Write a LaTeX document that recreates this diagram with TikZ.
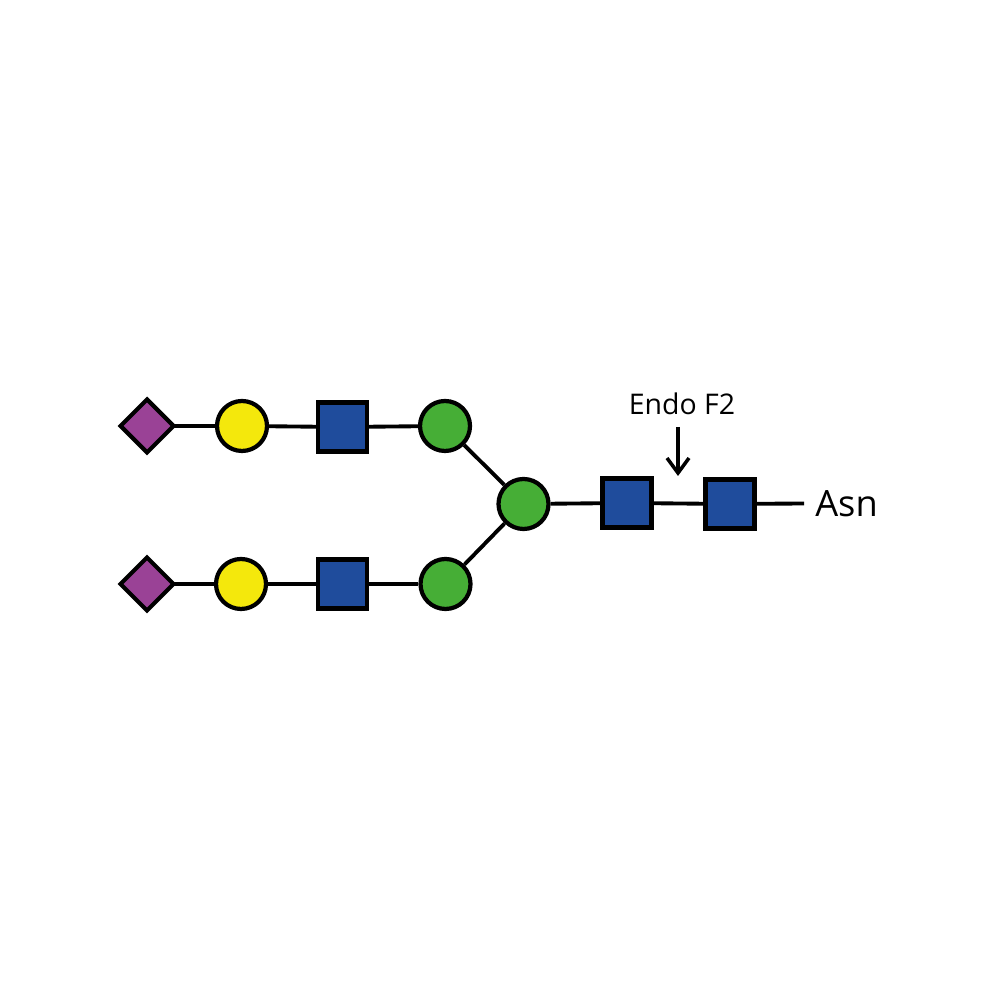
\documentclass[tikz,border=0pt]{standalone}
\usepackage{fontspec}
\setmainfont{Open Sans}
\usetikzlibrary{shapes.geometric,arrows.meta}

\definecolor{sialic}{RGB}{154,66,150}
\definecolor{galac}{RGB}{244,232,12}
\definecolor{glcnac}{RGB}{31,76,156}
\definecolor{manno}{RGB}{70,174,54}

\tikzset{
  link/.style={line width=1.1pt},
  sugarsq/.style={draw, line width=1.2pt, rectangle, fill=glcnac, inner sep=0pt, minimum size=0.49cm},
  sugarci/.style={draw, line width=1.2pt, circle, fill=#1, inner sep=0pt, minimum size=0.5cm},
  sugardi/.style={draw, line width=1.2pt, diamond, fill=sialic, inner sep=0pt, outer sep=0pt, minimum size=0.53cm}
}

\begin{document}
\begin{tikzpicture}

\useasboundingbox (0,0) rectangle (10,10);

% upper branch
\node[sugardi] (diaup) at (1.47,5.74) {};
\node[sugarci=galac] (galup) at (2.42,5.74) {};
\node[sugarsq] (squp) at (3.425,5.73) {};
\node[sugarci=manno] (manup) at (4.45,5.74) {};

% lower branch
\node[sugardi] (dialow) at (1.47,4.16) {};
\node[sugarci=galac] (gallow) at (2.41,4.16) {};
\node[sugarsq] (sqlow) at (3.425,4.16) {};
\node[sugarci=manno] (manlow) at (4.455,4.16) {};

% core
\node[sugarci=manno] (mancore) at (5.235,4.96) {};
\node[sugarsq] (sqone) at (6.27,4.97) {};
\node[sugarsq] (sqtwo) at (7.30,4.96) {};

\coordinate (asnend) at (8.04,4.965);
\node[font=\fontsize{10.3}{12}\selectfont] (asn) at (8.465,4.965) {Asn};
\node[font=\fontsize{8.1}{10}\selectfont] (endo) at (6.82,5.965) {Endo F2};

\coordinate (cutstart) at (6.78,5.73);
\coordinate (cutend) at (6.78,5.24);

\draw[link] (diaup) -- (galup);
\draw[link] (galup) -- (squp);
\draw[link] (squp) -- (manup);
\draw[link] (dialow) -- (gallow);
\draw[link] (gallow) -- (sqlow);
\draw[link] (sqlow) -- (manlow);
\draw[link] (manup) -- (mancore);
\draw[link] (manlow) -- (mancore);
\draw[link] (mancore) -- (sqone);
\draw[link] (sqone) -- (sqtwo);
\draw[link] (sqtwo) -- (asnend);

\draw[line width=1pt, -{Straight Barb[length=1.5mm, width=2.2mm]}] (cutstart) -- (cutend);

\end{tikzpicture}
\end{document}
